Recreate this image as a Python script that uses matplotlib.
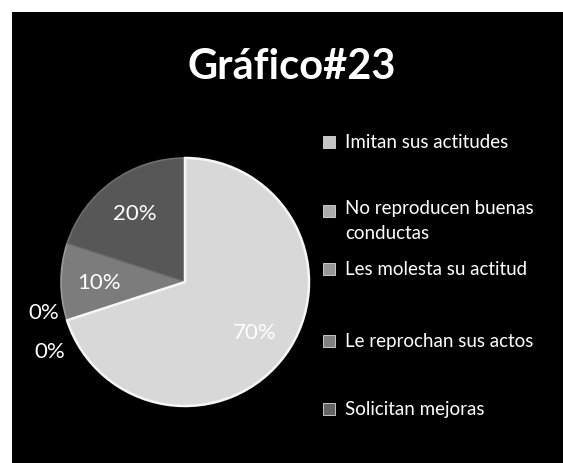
import matplotlib
matplotlib.use('Agg')
import matplotlib.pyplot as plt
from matplotlib.patches import Rectangle
from matplotlib import font_manager

# data
labels = ['Imitan sus actitudes', 'No reproducen buenas\nconductas',
          'Les molesta su actitud', 'Le reprochan sus actos', 'Solicitan mejoras']
values = [70, 0, 0, 10, 20]
title = 'Gráfico#23'

slice_colors = ['#d8d8d8', '#b0b0b0', '#9c9c9c', '#7c7c7c', '#575757']
edge_colors = ['#f6f6f6', '#c0c0c0', '#b0b0b0', '#9a9a9a', '#6e6e6e']
legend_colors = ['#c4c4c4', '#acacac', '#989898', '#808080', '#646464']

names = {f.name for f in font_manager.fontManager.ttflist}
main_font = 'Lato' if 'Lato' in names else 'DejaVu Sans'

W, H = 563, 464
fig = plt.figure(figsize=(W / 100, H / 100), dpi=100, facecolor='white')

# black chart area (white margin left and top)
bg = Rectangle((12 / W, 0), 1 - 12 / W, (H - 13) / H, transform=fig.transFigure,
               facecolor='black', edgecolor='none')
bg.set_zorder(-5)
fig.add_artist(bg)

fig.text(292 / W, 1 - 67 / H, title, color='white', fontsize=30,
         fontweight='bold', family=main_font, ha='center', va='center')

# pie
cx, cy, r = 185, 283, 124
ax = fig.add_axes([(cx - r) / W, (H - cy - r) / H, 2 * r / W, 2 * r / H])
ax.set_zorder(2)
ax.set_facecolor('none')
wedges, texts, autotexts = ax.pie(values, colors=slice_colors, startangle=90,
                                  counterclock=False, radius=1,
                                  autopct='%1.0f%%', pctdistance=0.69,
                                  wedgeprops=dict(linewidth=1.2),
                                  textprops=dict(color='white', fontsize=16, family=main_font))
for w, ec in zip(wedges, edge_colors):
    w.set_edgecolor(ec)
wedges[0].set_linewidth(1.8)
wedges[0].set_zorder(3)
for t in autotexts:
    t.set_zorder(4)
ax.set_xlim(-1, 1)
ax.set_ylim(-1, 1)

# zero slices: labels pushed outside the pie
zero_pos = [(-1.14, -0.24), (-1.09, -0.56)]
k = 0
for t, v in zip(autotexts, values):
    if v == 0:
        t.set_position(zero_pos[k])
        k += 1

# legend
leg_y = [143, 212, 270, 342, 410]
for lab, col, y in zip(labels, legend_colors, leg_y):
    fig.add_artist(Rectangle((323 / W, 1 - (y + 6) / H), 12 / W, 12 / H,
                             transform=fig.transFigure, facecolor=col,
                             edgecolor='#dddddd', linewidth=0.6, zorder=3))
    if '\n' in lab:
        fig.text(345 / W, 1 - (y - 12) / H, lab, color='white', fontsize=13.5,
                 family=main_font, ha='left', va='top', linespacing=1.6)
    else:
        fig.text(345 / W, 1 - y / H, lab, color='white', fontsize=13.5,
                 family=main_font, ha='left', va='center')

fig.savefig('out.png', dpi=100, facecolor='white')
